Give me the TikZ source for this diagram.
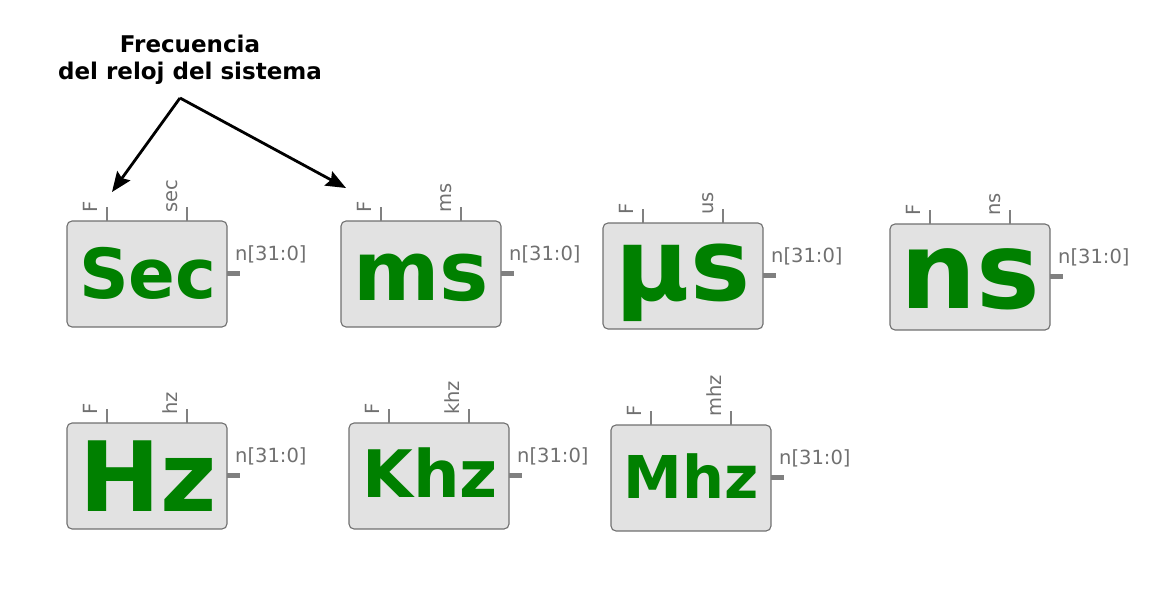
\documentclass[tikz,border=0pt]{standalone}
\usepackage{fontspec}
\setmainfont{DejaVu Sans}
\usetikzlibrary{arrows.meta}
\definecolor{boxfill}{RGB}{226,226,226}
\definecolor{boxdraw}{RGB}{112,112,112}
\definecolor{pingray}{RGB}{128,128,128}
\definecolor{lblgray}{RGB}{112,112,112}
\definecolor{biggreen}{RGB}{0,128,0}
\newcommand{\fsz}[1]{\fontsize{#1}{#1}\selectfont}
\newcommand{\blk}[8]{%
  % #1 name, #2 x, #3 y, #4 pin label, #5 big text, #6 font size, #7 baseline y, #8 text center x
  \node[blockbox, anchor=north west] (#1) at (#2,#3) {};
  \draw[toppin] ([xshift=40pt]#1.north west) coordinate (#1f) -- ++(0,-14);
  \draw[toppin] ([xshift=120pt]#1.north west) coordinate (#1p) -- ++(0,-14);
  \draw[outpin] ([yshift=-52pt]#1.north east) coordinate (#1o) -- ++(13,0);
  \node[pinlbl, rotate=90, anchor=base west] (#1fl) at ([xshift=-10pt,yshift=8pt]#1f) {F};
  \node[pinlbl, rotate=90, anchor=base west] (#1pl) at ([xshift=-10pt,yshift=8pt]#1p) {#4};
  \node[pinlbl, anchor=base west] (#1ol) at ([xshift=8pt,yshift=13pt]#1o) {n[31:0]};
  \node[bigtxt, anchor=base] (#1t) at (#8,#7) {\fsz{#6}#5};
}
\begin{document}
\begin{tikzpicture}[x=1pt,y=-1pt,
  blockbox/.style={draw=boxdraw, fill=boxfill, line width=1.1pt, rounded corners=5pt,
    minimum width=160pt, minimum height=106pt, inner sep=0pt, outer sep=0pt},
  toppin/.style={draw=pingray, line width=2.8pt},
  outpin/.style={draw=pingray, line width=5pt},
  pinlbl/.style={text=lblgray, font=\fsz{19.5}, inner sep=0pt},
  bigtxt/.style={text=biggreen, font=\bfseries, inner sep=0pt},
  callout/.style={line width=2.8pt, -{Stealth[length=20pt,width=16pt,inset=3pt]}}]
\useasboundingbox (0,0) rectangle (1158,596);

\blk{b1}{67}{221}{sec}{Sec}{69}{298}{148}
\blk{b2}{341}{221}{ms}{ms}{83}{300}{421}
\blk{b3}{603}{223}{us}{µs}{101}{300}{683}
\blk{b4}{890}{224}{ns}{ns}{107}{308}{970}
\blk{b5}{67}{423}{hz}{Hz}{97}{511}{148}
\blk{b6}{349}{423}{khz}{Khz}{65.5}{497}{430}
\blk{b7}{611}{425}{mhz}{Mhz}{59}{498}{691}

\node[font=\bfseries\fontsize{23}{27}\selectfont, align=center, inner sep=0pt, anchor=base] (title) at (190,80)
  {Frecuencia\\del reloj del sistema};
\coordinate (apex) at (180,98);
\coordinate (tip1) at (112,192);
\coordinate (tip2) at (346,188);
\draw[callout] (apex) -- (tip1);
\draw[callout] (apex) -- (tip2);
\end{tikzpicture}
\end{document}
